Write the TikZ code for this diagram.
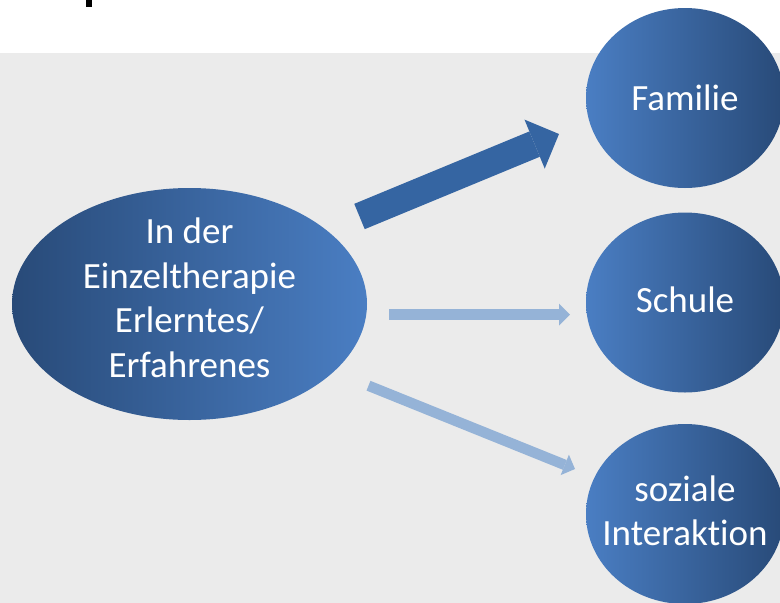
\documentclass[tikz,border=0pt]{standalone}
\usepackage{fontspec}
\setmainfont{Carlito}[Ligatures={NoCommon}]
\usetikzlibrary{shapes.geometric,arrows.meta}
\definecolor{bggray}{HTML}{EBEBEB}
\definecolor{darkblue}{HTML}{284A78}
\definecolor{lightblue}{HTML}{4A7EC3}
\definecolor{paleblue}{HTML}{95B3D7}
\definecolor{midblue}{HTML}{3565A2}
\tikzset{
  ellbase/.style={ellipse, draw=none, inner sep=0pt},
  srcell/.style={ellbase, minimum width=355pt, minimum height=232pt,
    left color=darkblue, right color=lightblue},
  tgtell/.style={ellbase, minimum width=198pt, minimum height=180pt,
    left color=lightblue, right color=darkblue},
  lbl/.style={text=white, align=center, inner sep=0pt,
    font=\fontsize{37pt}{44.5pt}\selectfont},
  bigarrow/.style={midblue, line width=27.4pt,
    -{Triangle[width=53pt,length=26.4pt,line width=0pt]}},
  thinarrow/.style={paleblue, line width=11pt,
    -{Triangle[width=22pt,length=11pt,line width=0pt]}}
}
\begin{document}
\begin{tikzpicture}[x=1pt,y=-1pt]
\useasboundingbox (0,0) rectangle (780,603);
\clip (0,0) rectangle (780,603);
\fill[bggray] (0,52.5) rectangle (780,603);
\fill[black] (85.5,0) rectangle (91.5,6.5);
% nodes
\node[srcell, label={[lbl,yshift=6pt]center:In der\\Einzeltherapie\\Erlerntes/\\Erfahrenes}] (src) at (189.5,304) {};
\node[tgtell, label={[lbl]center:Familie}] (fam) at (685,98) {};
\node[tgtell, label={[lbl,yshift=3pt]center:Schule}] (sch) at (685,302.5) {};
\node[tgtell, label={[lbl,yshift=3pt]center:soziale\\Interaktion}] (soz) at (685,514) {};
% connectors
\coordinate (a1s) at (359.5,216.5);
\coordinate (a1e) at (559,134);
\coordinate (a2s) at (389,314.5);
\coordinate (a2e) at (570,314.5);
\coordinate (a3s) at (368.5,385.7);
\coordinate (a3e) at (575,469);
\draw[bigarrow] (a1s) -- (a1e);
\draw[thinarrow] (a2s) -- (a2e);
\draw[thinarrow, line width=10.5pt] (a3s) -- (a3e);
\end{tikzpicture}
\end{document}
